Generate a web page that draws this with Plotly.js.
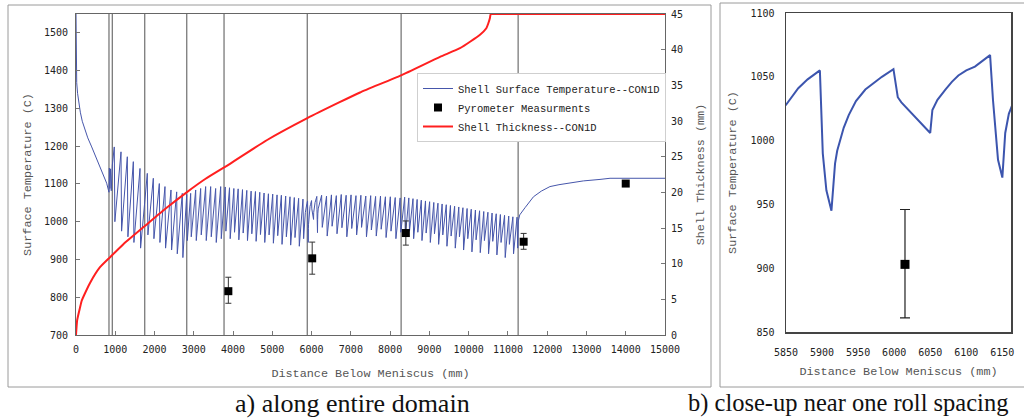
<!DOCTYPE html>
<html>
<head>
<meta charset="utf-8">
<script src="https://cdn.plot.ly/plotly-3.0.1.min.js"></script>
<style>
  html, body { margin: 0; padding: 0; background: #ffffff; }
  #chart { width: 1024px; height: 418px; }
</style>
</head>
<body>
<div id="chart"></div>
<script>
// ---- Data ----
// Shell surface temperature (CON1D), distance below meniscus (mm) vs temperature (C)
const tempDist = [
  0, 3, 8, 18, 40, 70, 110, 160, 220, 300, 400, 500, 611, 700, 781, 840,
  850, 862, 880, 898, 925,
  975, 990, 1146, 1161, 1307, 1322, 1460, 1475, 1630, 1645,
  1816, 1831, 1969, 1984, 2122, 2137, 2266, 2281, 2419, 2434, 2564, 2579, 2707, 2722,
  2820, 2835, 2920, 2935, 3048, 3063, 3175, 3190, 3302, 3317, 3430, 3445, 3557, 3572, 3685, 3700,
  3800, 3817, 3910, 3927, 4020, 4037, 4130, 4147, 4240, 4257, 4350, 4367, 4460, 4477, 4570, 4587,
  4680, 4697, 4790, 4807, 4900, 4917, 5010, 5027, 5120, 5137, 5230, 5247, 5340, 5357, 5450, 5467,
  5560, 5577, 5670, 5687, 5780, 5797,
  5840, 5850, 5867, 5880, 5897, 5901, 5906, 5913, 5918, 5921, 5925, 5930, 5937, 5947, 5960, 5971,
  5983, 5999, 6005, 6010, 6015, 6022, 6029, 6040, 6050,
  6053, 6060, 6071, 6080, 6089, 6100, 6112, 6122, 6133, 6137, 6144, 6150, 6154, 6159, 6168,
  6255, 6272, 6380, 6397, 6505, 6522, 6630, 6647, 6755, 6772, 6880, 6897, 7005, 7022, 7130, 7147,
  7255, 7272, 7380, 7397, 7505, 7522, 7630, 7647, 7755, 7772, 7880, 7897, 8005, 8022, 8130, 8147,
  8255, 8272,
  8370, 8387, 8476, 8493, 8582, 8599, 8688, 8705, 8794, 8811, 8900, 8917, 9006, 9023, 9112, 9129,
  9218, 9235, 9324, 9341, 9430, 9447, 9536, 9553, 9642, 9659, 9748, 9765, 9854, 9871, 9960, 9977,
  10066, 10083, 10172, 10189, 10278, 10295, 10384, 10401, 10490, 10507, 10596, 10613, 10702, 10719,
  10808, 10825, 10914, 10931, 11020, 11037, 11126, 11143, 11232, 11249,
  11265, 11300, 11435, 11650, 11850, 12070, 12300, 12500, 12920, 13345, 13600, 15000
];
const tempSurf = [
  1550, 1460, 1400, 1368, 1340, 1315, 1290, 1266, 1246, 1222, 1198, 1172, 1146, 1124, 1102, 1078,
  1142, 1088, 1140, 1082, 1150,
  1198, 1000, 1185, 975, 1172, 960, 1159, 945, 1141, 930,
  1128, 965, 1115, 955, 1101, 945, 1093, 930, 1084, 925, 1079, 915, 1075, 905,
  1072, 950, 1075, 960, 1084, 950, 1088, 965, 1093, 950, 1093, 960, 1088, 945, 1093, 955,
  1092, 975, 1090, 955, 1088, 972, 1087, 952, 1085, 970, 1083, 950, 1081, 968, 1080, 948,
  1078, 966, 1076, 945, 1074, 965, 1073, 943, 1071, 963, 1070, 940, 1068, 960, 1066, 938,
  1064, 958, 1062, 935, 1060, 955,
  1024, 1028, 1041, 1048, 1055, 990, 961, 945, 982, 992, 1000, 1010, 1020, 1031, 1040, 1045,
  1050, 1056, 1034, 1030, 1027, 1023, 1019, 1012, 1006,
  1024, 1032, 1040, 1046, 1051, 1055, 1058, 1062, 1067, 1032, 985, 971, 1006, 1021, 1034,
  1070, 985, 1068, 962, 1071, 988, 1069, 968, 1072, 984, 1070, 960, 1071, 982, 1069, 965,
  1070, 985, 1068, 960, 1069, 978, 1067, 962, 1068, 980, 1066, 958, 1066, 975, 1064, 955,
  1063, 972,
  1065, 960, 1063, 975, 1061, 955, 1059, 972, 1057, 950, 1055, 970, 1053, 945, 1051, 968,
  1049, 940, 1047, 965, 1045, 935, 1043, 962, 1041, 930, 1039, 960, 1037, 925, 1035, 955,
  1033, 920, 1031, 952, 1029, 918, 1027, 950, 1025, 915, 1023, 948, 1021, 912,
  1019, 945, 1017, 905, 1015, 940, 1013, 915, 1012, 930,
  1002, 1018, 1037, 1066, 1081, 1093, 1098, 1101, 1108, 1112, 1115, 1115
];

// Shell thickness (CON1D), mm
const thickDist = [0, 30, 100, 145, 200, 357, 611, 866, 1200, 1800, 2300, 2818, 3300, 3922,
  4856, 5891, 6700, 7233, 8276, 9270, 9779, 10289, 10450, 10501, 10540, 10561, 10600, 15000];
const shellThick = [0, 2.1, 3.8, 4.8, 5.5, 7.3, 9.5, 10.9, 12.7, 15.5, 17.8, 20.0, 21.9, 24.0,
  27.3, 30.4, 32.6, 34.0, 36.4, 39.0, 40.2, 42.1, 43.0, 43.7, 44.4, 45, 45, 45];

// Pyrometer measurements with error bars
const pyroDist = [3880, 6015, 8400, 11400, 14000];
const pyroTemp = [816, 903, 970, 947, 1101];
const pyroErrPlus = [37, 43, 32, 22, 0];
const pyroErrMinus = [32, 42, 32, 20, 0];

// Spray-zone / segment boundaries (vertical lines)
const zoneBounds = [840, 925, 1750, 2820, 3770, 5890, 8280, 11260];

// Labels
const seriesNames = ["Shell Surface Temperature--CON1D", "Pyrometer Measurments", "Shell Thickness--CON1D"];
const captionA = "a) along entire domain";
const captionB = "b) close-up near one roll spacing";
const xTitle = "Distance Below Meniscus (mm)";
const yTitle = "Surface Temperature (C)";
const y2Title = "Shell Thickness (mm)";

// ---- Layout geometry (pixels -> paper) ----
const W = 1024, H = 418;
const px = v => v / W;
const py = v => (H - v) / H;

const mono = "Liberation Mono";
const tickFont = { family: "DejaVu Sans Mono", size: 10, color: "#222" };
const titleFont = { family: mono, size: 11.8, color: "#555" };

const blue = "#4656ab";

const traces = [
  {
    x: tempDist, y: tempSurf, type: "scatter", mode: "lines",
    name: seriesNames[0], xaxis: "x", yaxis: "y",
    line: { color: blue, width: 1 }
  },
  {
    x: pyroDist, y: pyroTemp, type: "scatter", mode: "markers",
    name: seriesNames[1], xaxis: "x", yaxis: "y",
    marker: { symbol: "square", size: 8, color: "#000" },
    error_y: { type: "data", array: pyroErrPlus, arrayminus: pyroErrMinus, color: "#333", thickness: 1, width: 3 }
  },
  {
    x: thickDist, y: shellThick, type: "scatter", mode: "lines",
    name: seriesNames[2], xaxis: "x", yaxis: "y2",
    line: { color: "#ff1f1f", width: 2, shape: "spline", smoothing: 0.5 }
  },
  {
    x: tempDist, y: tempSurf, type: "scatter", mode: "lines",
    showlegend: false, xaxis: "x2", yaxis: "y3",
    line: { color: "#3c55ae", width: 2 }
  },
  {
    x: pyroDist, y: pyroTemp, type: "scatter", mode: "markers",
    showlegend: false, xaxis: "x2", yaxis: "y3",
    marker: { symbol: "square", size: 9, color: "#000" },
    error_y: { type: "data", array: pyroErrPlus, arrayminus: pyroErrMinus, color: "#222", thickness: 1.2, width: 5 }
  }
];

const shapes = zoneBounds.map(b => ({
  type: "line", xref: "x", yref: "paper", x0: b, x1: b, y0: py(335), y1: py(14),
  line: { color: "#7a7a7a", width: 1.3 }, layer: "below"
}));
// panel frames
shapes.push({ type: "rect", xref: "paper", yref: "paper", x0: px(8), x1: px(711), y0: py(387), y1: py(5),
  line: { color: "#9a9a9a", width: 1 }, layer: "below" });
shapes.push({ type: "rect", xref: "paper", yref: "paper", x0: px(720), x1: px(1040), y0: py(387), y1: py(3),
  line: { color: "#9a9a9a", width: 1 }, layer: "below" });

const layout = {
  width: W, height: H,
  margin: { l: 0, r: 0, t: 0, b: 0 },
  paper_bgcolor: "#ffffff", plot_bgcolor: "#ffffff",
  showlegend: true,
  legend: {
    x: px(417), y: py(73), xanchor: "left", yanchor: "top",
    bgcolor: "#ffffff", bordercolor: "#cfcfcf", borderwidth: 1,
    font: { family: mono, size: 10.5, color: "#222" },
    tracegroupgap: 0
  },
  xaxis: {
    domain: [px(76), px(665)], anchor: "y",
    range: [0, 15000], dtick: 1000, tick0: 0, tickformat: "d",
    ticks: "inside", ticklen: 4, tickcolor: "#777", ticklabelstandoff: 5,
    showline: true, linecolor: "#666", linewidth: 1, mirror: true,
    showgrid: false, zeroline: false, tickfont: tickFont,
    title: { text: xTitle, font: titleFont, standoff: 14 }
  },
  yaxis: {
    domain: [py(335), py(14)], anchor: "x",
    range: [700, 1550], dtick: 100, tick0: 700,
    ticks: "inside", ticklen: 4, tickcolor: "#777", ticklabelstandoff: 5,
    showline: true, linecolor: "#666", linewidth: 1,
    showgrid: false, zeroline: false, tickfont: tickFont,
    title: { text: yTitle, font: titleFont, standoff: 9 }
  },
  yaxis2: {
    overlaying: "y", side: "right", anchor: "x",
    range: [0, 45], dtick: 5, tick0: 0,
    ticks: "inside", ticklen: 4, tickcolor: "#777", ticklabelstandoff: 3,
    showline: true, linecolor: "#666", linewidth: 1,
    showgrid: false, zeroline: false, tickfont: tickFont,
    title: { text: y2Title, font: titleFont, standoff: 13 }
  },
  xaxis2: {
    domain: [px(786), px(1011)], anchor: "y3",
    range: [5850, 6162], dtick: 50, tick0: 5850, tickformat: "d",
    ticks: "", ticklabelstandoff: 10,
    showline: true, linecolor: "#444", linewidth: 1.5, mirror: true,
    showgrid: false, zeroline: false, tickfont: tickFont,
    title: { text: xTitle, font: titleFont, standoff: 10 }
  },
  yaxis3: {
    domain: [py(332), py(13)], anchor: "x2",
    range: [850, 1100], dtick: 50, tick0: 850,
    ticks: "", ticklabelstandoff: 8,
    showline: true, linecolor: "#444", linewidth: 1.5, mirror: true,
    showgrid: false, zeroline: false, tickfont: tickFont,
    title: { text: yTitle, font: titleFont, standoff: 11 }
  },
  shapes: shapes,
  annotations: [
    { text: captionA, xref: "paper", yref: "paper", x: px(352), y: py(403),
      xanchor: "center", yanchor: "middle", showarrow: false,
      font: { family: "Liberation Serif", size: 26, color: "#111" } },
    { text: captionB, xref: "paper", yref: "paper", x: px(686), y: py(403),
      xanchor: "left", yanchor: "middle", showarrow: false,
      font: { family: "Liberation Serif", size: 24.5, color: "#111" } }
  ]
};

Plotly.newPlot("chart", traces, layout, { displayModeBar: false, staticPlot: true });
</script>
</body>
</html>
